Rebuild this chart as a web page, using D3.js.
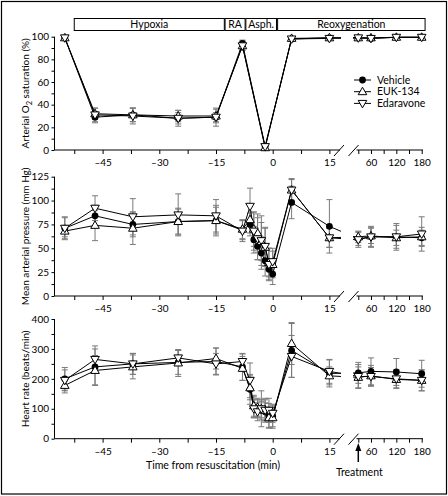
<!DOCTYPE html>
<html><head><meta charset="utf-8">
<script src="https://cdn.jsdelivr.net/npm/d3@7"></script>
<style>
body{margin:0;background:#fff;}
text{font-family:Lato,"Noto Sans",sans-serif;fill:#000;}
</style></head>
<body><svg id="c" width="448" height="496"></svg>
<script>
// ---------------- data ----------------
const seriesNames = ["Vehicle", "EUK-134", "Edaravone"];
const phases = ["Hypoxia", "RA", "Asph.", "Reoxygenation"];
const phaseStart = [-52.5, -12.6, -7.1, 1.3];
const phaseEnd = [-12.8, -7.3, 1.0, 188];

const tSat = [-55, -47, -37, -25, -15, -8, -2, 5, 15, 30, 60, 120, 180];
const satVehicle = [99, 29, 31, 28, 29, 94, 3, 98, 99, 99, 98.5, 99.5, 99.5];
const satEUK = [99, 32, 31, 30, 30, 92, 2, 98.5, 99, 99, 99, 99.5, 99.5];
const satEdara = [99, 31, 30, 28, 29, 92, 3, 98, 98.5, 99, 98.5, 99.5, 99.5];
const satSdVehicle = [1, 5, 6, 5, 4, 3, 2, 1, 1, 1, 1, 1, 1];
const satSdEUK = [1, 5, 6, 5, 6, 4, 2, 1, 1, 1, 1, 1, 1];
const satSdEdara = [1, 6, 7, 7, 8, 4, 2, 1, 1, 1, 1, 1, 1];

const tHemo = [-55, -47, -37, -25, -15, -8, -6, -5, -4, -3, -2, -1, 0, 5, 15, 30, 60, 120, 180];
const mapVehicle = [71, 84, 75, 78, 79, 69, 75, 59, 52, 45, 37, 28, 23, 98, 73, 60, 62, 62, 61];
const mapEUK = [68, 74, 71, 78, 79, 70, 80, 70, 66, 57, 51, 35, 33, 111, 61, 62, 63, 61, 62];
const mapEdara = [71, 92, 83, 85, 84, 68, 94, 68, 60, 58, 52, 33, 36, 111, 61, 59, 62, 62, 65];
const mapSdVehicle = [11, 11, 13, 13, 14, 10, 12, 14, 14, 17, 16, 11, 11, 17, 28, 7, 10, 12, 8];
const mapSdEUK = [6, 16, 17, 14, 16, 10, 14, 18, 20, 20, 20, 15, 14, 11, 10, 6, 8, 8, 10];
const mapSdEdara = [12, 13, 19, 22, 17, 11, 19, 20, 22, 26, 20, 17, 14, 12, 10, 8, 11, 14, 18];

const hrVehicle = [200, 240, 250, 255, 258, 240, 165, 105, 100, 95, 90, 78, 75, 295, 218, 220, 225, 223, 217];
const hrEUK = [178, 228, 240, 253, 268, 235, 170, 110, 105, 100, 95, 70, 70, 318, 210, 205, 210, 198, 195];
const hrEdara = [195, 265, 250, 270, 250, 258, 195, 100, 90, 100, 95, 95, 85, 275, 225, 208, 208, 200, 195];
const hrSdVehicle = [38, 60, 35, 40, 45, 45, 50, 35, 30, 30, 30, 40, 35, 90, 45, 35, 45, 45, 45];
const hrSdEUK = [25, 50, 40, 45, 35, 40, 40, 35, 30, 30, 35, 35, 35, 70, 30, 35, 35, 30, 35];
const hrSdEdara = [35, 45, 35, 25, 35, 25, 58, 30, 30, 60, 40, 40, 30, 70, 40, 40, 30, 30, 35];

const xLeftMajor = [-45, -30, -15, 0, 15];
const xLeftMinor = [-52.5, -37.5, -22.5, -7.5, 7.5];
const xRightMajor = [60, 120, 180];
const xRightMinor = [30, 90, 150];

// ---------------- layout ----------------
const svg = d3.select("#c");
svg.append("rect").attr("x", 1.5).attr("y", 1.5).attr("width", 445).attr("height", 492.5)
  .attr("fill", "none").attr("stroke", "#000").attr("stroke-width", 1.2);

const xL = d3.scaleLinear().domain([-15, 0]).range([216, 272.7]);
const xR = d3.scaleLinear().domain([30, 180]).range([358.3, 421.7]);
const xpos = t => t <= 15 ? xL(t) : xR(t);
const axisX0 = 54.5, breakL = 340, breakR = 356.5, axisRightEnd = 423;

const defs = svg.append("defs");
const cp = defs.append("clipPath").attr("id", "gapclip");
cp.append("rect").attr("x", 0).attr("y", 0).attr("width", 341).attr("height", 496);
cp.append("rect").attr("x", 353).attr("y", 0).attr("width", 95).attr("height", 496);

// header boxes
const hdr = svg.append("g");
phases.forEach((p, i) => {
  const x0 = xpos(phaseStart[i]), x1 = phaseEnd[i] > 15 ? xR(phaseEnd[i]) : xpos(phaseEnd[i]);
  hdr.append("rect").attr("x", x0).attr("y", 18.5).attr("width", x1 - x0).attr("height", 12)
    .attr("fill", "#fff").attr("stroke", "#000").attr("stroke-width", 1);
  hdr.append("text").attr("x", (x0 + x1) / 2).attr("y", 28.3).attr("text-anchor", "middle")
    .attr("font-size", 10.5).text(p);
});

function drawPanel(cfg) {
  const g = svg.append("g");
  const y = d3.scaleLinear().domain(cfg.domain).range(cfg.range);
  const y0 = cfg.range[0];
  // y axis
  const ya = d3.axisLeft(y).tickValues(cfg.yMajor.concat(cfg.yMinor)).tickSize(3).tickPadding(2.5)
    .tickFormat(d => cfg.yMajor.includes(d) ? d : "");
  const yg = g.append("g").attr("transform", `translate(${axisX0},0)`).call(ya);
  yg.select(".domain").attr("d", `M0,${y0}V${cfg.range[1]}`);
  yg.selectAll("text").attr("font-size", 10);
  yg.selectAll("line,path").attr("stroke", "#000");
  // x axes (left and right segment)
  const xLa = xL.copy().domain([xL.invert(axisX0), xL.invert(breakL)]).range([axisX0, breakL]);
  const xa1 = d3.axisBottom(xLa).tickValues(xLeftMajor.concat(xLeftMinor)).tickSize(4).tickPadding(5)
    .tickFormat(d => xLeftMajor.includes(d) ? (d < 0 ? "\u2013" + Math.abs(d) : d) : "");
  const xg1 = g.append("g").attr("transform", `translate(0,${y0})`).call(xa1);
  xg1.select(".domain").attr("d", `M${axisX0},0H${breakL}`);
  const xRa = xR.copy().domain([xR.invert(breakR), xR.invert(axisRightEnd)]).range([breakR, axisRightEnd]);
  const xa2 = d3.axisBottom(xRa).tickValues(xRightMajor.concat(xRightMinor)).tickSize(4).tickPadding(5)
    .tickFormat(d => xRightMajor.includes(d) ? d : "");
  const xg2 = g.append("g").attr("transform", `translate(0,${y0})`).call(xa2);
  xg2.select(".domain").attr("d", `M${breakR},0H${axisRightEnd}`);
  [xg1, xg2].forEach(a => { a.selectAll("text").attr("font-size", 10); a.selectAll("line,path").attr("stroke", "#000"); });
  // break slashes
  g.append("line").attr("x1", breakL - 6).attr("y1", y0 + 6).attr("x2", breakL + 4).attr("y2", y0 - 5).attr("stroke", "#000");
  g.append("line").attr("x1", breakR - 8).attr("y1", y0 + 6).attr("x2", breakR + 2).attr("y2", y0 - 5).attr("stroke", "#000");
  // y title
  const tt = g.append("text").attr("transform", `translate(29,${(cfg.range[0] + cfg.range[1]) / 2}) rotate(-90)`)
    .attr("text-anchor", "middle").attr("font-size", 10);
  cfg.title.forEach(s => {
    const ts = tt.append("tspan").text(s.t);
    if (s.sub) ts.attr("dy", 2.5).attr("font-size", 7.5);
    else if (s.after) ts.attr("dy", -2.5);
  });
  const series = cfg.values.map((vals, si) => vals.map((v, i) => ({ t: cfg.times[i], v, sd: cfg.sds[si][i] })));
  // error bars
  const eb = g.append("g").attr("stroke", "#7a7a7a").attr("stroke-width", 1);
  series.forEach(s => s.forEach(d => {
    const x = xpos(d.t), yt = y(d.v + d.sd), yb = y(Math.max(0, d.v - d.sd));
    eb.append("line").attr("x1", x).attr("x2", x).attr("y1", yt).attr("y2", yb);
    eb.append("line").attr("x1", x - 3).attr("x2", x + 3).attr("y1", yt).attr("y2", yt);
    eb.append("line").attr("x1", x - 3).attr("x2", x + 3).attr("y1", yb).attr("y2", yb);
  }));
  // lines
  const line = d3.line().x(d => xpos(d.t)).y(d => y(d.v));
  series.forEach(s => g.append("path").attr("d", line(s)).attr("fill", "none")
    .attr("stroke", "#000").attr("stroke-width", 1).attr("clip-path", "url(#gapclip)"));
  // markers
  series.forEach((s, si) => s.forEach(d => drawMarker(g, si, xpos(d.t), y(d.v))));
}

function drawMarker(g, si, x, y) {
  if (si === 0) {
    g.append("circle").attr("cx", x).attr("cy", y).attr("r", 3.4).attr("fill", "#000");
  } else {
    g.append("path").attr("d", d3.symbol(d3.symbolTriangle, 32)())
      .attr("transform", `translate(${x},${y + (si === 1 ? 0.5 : -0.5)}) rotate(${si === 1 ? 0 : 180})`)
      .attr("fill", "#fff").attr("stroke", "#000").attr("stroke-width", 1);
  }
}

drawPanel({ domain: [0, 100], range: [150, 36.7], yMajor: [0, 20, 40, 60, 80, 100], yMinor: [10, 30, 50, 70, 90],
  title: [{ t: "Arterial O" }, { t: "2", sub: true }, { t: " saturation (%)", after: true }],
  times: tSat, values: [satVehicle, satEUK, satEdara], sds: [satSdVehicle, satSdEUK, satSdEdara] });
drawPanel({ domain: [0, 125], range: [296, 176.7], yMajor: [0, 25, 50, 75, 100, 125], yMinor: [12.5, 37.5, 62.5, 87.5, 112.5],
  title: [{ t: "Mean arterial pressure (mm Hg)" }],
  times: tHemo, values: [mapVehicle, mapEUK, mapEdara], sds: [mapSdVehicle, mapSdEUK, mapSdEdara] });
drawPanel({ domain: [0, 400], range: [438.7, 319], yMajor: [0, 100, 200, 300, 400], yMinor: [50, 150, 250, 350],
  title: [{ t: "Heart rate (beats/min)" }],
  times: tHemo, values: [hrVehicle, hrEUK, hrEdara], sds: [hrSdVehicle, hrSdEUK, hrSdEdara] });

// legend
const lg = svg.append("g");
seriesNames.forEach((n, i) => {
  const ly = 80 + i * 11.7;
  lg.append("line").attr("x1", 354).attr("x2", 371).attr("y1", ly).attr("y2", ly).attr("stroke", "#000");
  drawMarker(lg, i, 362.5, ly);
  lg.append("text").attr("x", 377).attr("y", ly + 3.6).attr("font-size", 10.5).text(n);
});

// x title & treatment
svg.append("text").attr("x", 213).attr("y", 469).attr("text-anchor", "middle").attr("font-size", 10.5)
  .text("Time from resuscitation (min)");
const ax = xR(30);
svg.append("line").attr("x1", ax).attr("x2", ax).attr("y1", 462).attr("y2", 449).attr("stroke", "#000").attr("stroke-width", 1.5);
svg.append("path").attr("d", `M${ax},443L${ax - 3},451L${ax + 3},451Z`).attr("fill", "#000");
svg.append("text").attr("x", ax + 1).attr("y", 476).attr("text-anchor", "middle").attr("font-size", 10.5).text("Treatment");
</script></body></html>
